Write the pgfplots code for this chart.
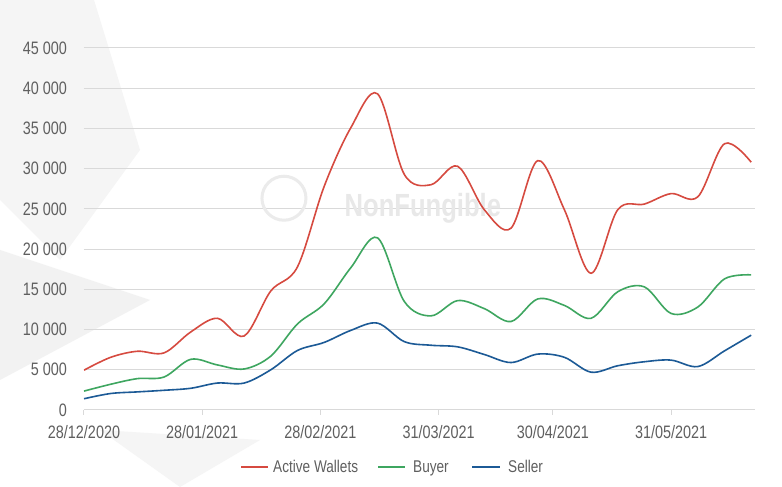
\documentclass[border=0pt]{standalone}
\usepackage{pgfplots}
\pgfplotsset{compat=1.18}
\usepackage{pgfplotstable}
\usepackage{fontspec}
\setmainfont{Liberation Sans}[FakeStretch=0.8]

\definecolor{wallets}{RGB}{214,74,64}
\definecolor{buyer}{RGB}{62,166,96}
\definecolor{seller}{RGB}{28,90,150}
\definecolor{gridgray}{RGB}{217,217,217}
\definecolor{txtgray}{RGB}{95,95,95}

% weekly values, x = days since 28/12/2020
\pgfplotstableread{
day wallets buyer seller
0   4950  2350 1400
7   6550  3200 2050
14  7300  3900 2250
21  7100  4100 2450
28  9700  6300 2700
35  11400 5600 3350
42  9200  5100 3350
49  14800 6700 5000
56  17800 10700 7400
63  27800 13200 8400
70  35100 17700 9900
77  39300 21400 10800
84  29300 13500 8500
91  28000 11700 8050
98  30300 13600 7850
105 24900 12600 6900
112 22600 11000 5900
119 31000 13800 6950
126 24900 13000 6550
133 17000 11400 4700
140 24900 14700 5500
147 25600 15300 6000
154 26900 12000 6200
161 26500 12800 5400
168 33100 16300 7350
175 30800 16800 9300
}\nftdata

\begin{document}
\begin{tikzpicture}
\path[use as bounding box, fill=white] (-84pt,-77pt) rectangle (698pt,410pt);
% faint background shapes
\fill[black!4] (-84pt,410pt) -- (10pt,410pt) -- (56pt,260pt) -- (-24pt,150pt) -- (-84pt,210pt) -- cycle;
\fill[black!5] (-84pt,160pt) -- (66pt,110pt) -- (-84pt,30pt) -- cycle;
\fill[black!4] (16pt,-20pt) -- (176pt,-30pt) -- (96pt,-77pt) -- cycle;

\begin{axis}[
    scale only axis,
    width=671pt, height=362pt,
    xmin=0, xmax=176,
    ymin=0, ymax=45000,
    axis x line*=bottom,
    axis y line*=left,
    x axis line style={-, draw=gridgray, line width=1pt},
    y axis line style={draw=none},
    ymajorgrids,
    grid style={gridgray, line width=1pt},
    ytick={0,5000,...,45000},
    scaled y ticks=false,
    ytick style={draw=none},
    xtick={0,31,62,93,123,154},
    xticklabels={28/12/2020,28/01/2021,28/02/2021,31/03/2021,30/04/2021,31/05/2021},
    xtick style={draw=gridgray, line width=1pt},
    tick align=outside,
    major tick length=5pt,
    xtick pos=bottom,
    ytick pos=left,
    /pgf/number format/assume math mode=true,
    /pgf/number format/1000 sep={\ },
    tick label style={font=\fontsize{18}{18}\selectfont, text=txtgray},
    yticklabel style={anchor=east, inner sep=0pt, xshift=-12pt},
    xticklabel style={anchor=north, inner sep=0pt, yshift=-10pt},
    every axis plot/.append style={line width=1.6pt, smooth, tension=0.55},
]
\node[text=black!9, font=\bfseries\fontsize{32}{32}\selectfont] at (rel axis cs:0.505,0.558) {NonFungible};
\draw[black!8, line width=3pt] (rel axis cs:0.298,0.585) circle[radius=22pt];
\addplot[wallets] table[x=day, y=wallets] {\nftdata};
\addplot[buyer] table[x=day, y=buyer] {\nftdata};
\addplot[seller] table[x=day, y=seller] {\nftdata};
\end{axis}

% legend
\begin{scope}[every node/.style={anchor=base west, inner sep=0pt, text=txtgray, font=\fontsize{17}{17}\selectfont}]
\draw[wallets, line width=1.6pt] (157pt,-57pt) -- (184pt,-57pt);
\node at (189pt,-63pt) {Active Wallets};
\draw[buyer, line width=1.6pt] (294pt,-57pt) -- (321pt,-57pt);
\node at (329pt,-63pt) {Buyer};
\draw[seller, line width=1.6pt] (388pt,-57pt) -- (416pt,-57pt);
\node at (424pt,-63pt) {Seller};
\end{scope}
\end{tikzpicture}
\end{document}
